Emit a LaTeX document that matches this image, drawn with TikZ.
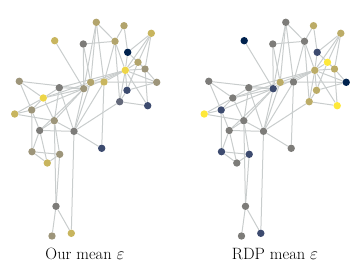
\documentclass[tikz,border=0pt]{standalone}
\usetikzlibrary{backgrounds}

\definecolor{edgegray}{HTML}{C9CDCD}
\definecolor{cnavy}{HTML}{00224E}
\definecolor{cslate}{HTML}{3D4B6F}
\definecolor{cslgr}{HTML}{63687A}
\definecolor{cgry}{HTML}{7D7C79}
\definecolor{cgt}{HTML}{9D957A}
\definecolor{ctan}{HTML}{B2A46C}
\definecolor{cyt}{HTML}{C8B55E}
\definecolor{cyel}{HTML}{EDD548}
\definecolor{cbright}{HTML}{FEE83A}
\definecolor{crtan}{HTML}{BCAC67}

\tikzset{
  dot/.style={circle, inner sep=0pt, minimum size=7.4pt},
  link/.style={draw=edgegray, line width=1pt},
  caption/.style={font=\fontsize{16.4}{19}\selectfont, anchor=base}
}

\begin{document}
\begin{tikzpicture}[x=1pt, y=-1pt]
    \useasboundingbox (0,0) rectangle (361,262);

    % name / x / y / colour left / colour right
    \foreach \n/\x/\y/\cl/\cr in {
        A/96.3/22.3/ctan/cgry, B/124/25.7/ctan/crtan, C/151.3/33.3/cyt/crtan,
        D/54.7/40.7/cyt/cnavy, E/83.3/44/cgry/cgry, F/115/41.3/ctan/cgry,
        G/127.7/52.3/cnavy/cslate, H/138/62.3/ctan/cbright, I/125.3/70.3/cyel/crtan,
        J/145/69/cgt/crtan, K/156.7/82.3/cgt/cnavy, L/19.3/81.3/cgt/cgry,
        M/59.3/87.7/cgry/cgry, N/90.7/82.3/ctan/crtan, O/104/82/cyt/cgry,
        P/83.7/88.7/cgt/cslate, Q/127/90.3/cslate/crtan, R/43.3/98/cyel/cgry,
        S/119.7/101.7/cslgr/crtan, T/147.7/105.7/cslate/cbright, U/14.7/114/cyt/cbright,
        V/31.7/110/cgt/cslate, W/54.3/120.7/cgt/cgry, X/39.7/130.5/cgry/cgry,
        Y/74/131.3/cgry/cgry, Z/101.7/148.3/cslate/cgry, a/32/151.7/cgt/cslate,
        b/59.7/154.3/cgt/cslate, c/47.3/163/cyt/cgry, d/56/206.3/cgry/cgry,
        e/52/236/cgt/cgry, f/71.3/233.3/cyt/cslate}{
        \node[dot, fill=\cl] (l\n) at (\x,\y) {};
        \node[dot, fill=\cr] (r\n) at (\x+189.5,\y) {};
    }

    \begin{scope}[on background layer]
    \foreach \a/\b in {A/F, A/N, A/P, A/O, B/F, B/G, C/G, C/H, C/I, C/J,
        D/P, E/F, E/P, E/N, F/I, F/O, F/S, G/I, G/J, H/I, H/J, H/Q,
        I/J, I/K, I/N, I/O, I/P, I/M, I/Q, I/S, I/T, J/K, J/T, K/Q, K/O,
        Q/S, S/T, L/R, L/V, L/P, M/P, M/R, M/W, M/Y, N/O, N/P, N/Y, N/R,
        O/Y, O/Z, P/R, P/W, P/X, P/Y, P/V, R/U, R/V, R/W, U/V, U/W,
        V/X, V/a, W/X, W/b, W/d, W/Y, X/a, X/c, X/Y, Y/Z, Y/f, Y/S,
        a/b, a/c, b/c, b/d, d/e, d/f}{
        \draw[link] (l\a) -- (l\b);
        \draw[link] (r\a) -- (r\b);
    }
    \end{scope}

    \node[caption] (capL) at (85,259.5) {Our mean $\varepsilon$};
    \node[caption] (capR) at (275,259.5) {RDP mean $\varepsilon$};
\end{tikzpicture}
\end{document}
